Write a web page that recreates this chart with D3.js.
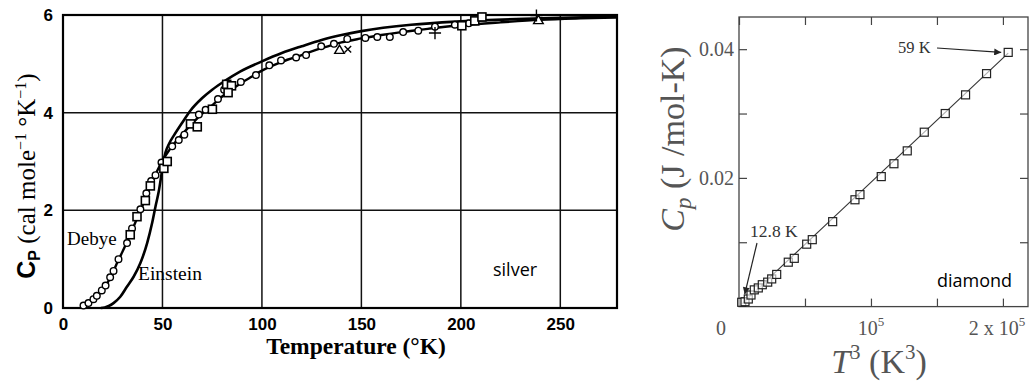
<!DOCTYPE html>
<html>
<head>
<meta charset="utf-8">
<script src="https://cdn.jsdelivr.net/npm/d3@7"></script>
<style>
  body { margin: 0; background: #fff; }
  svg { display: block; }
</style>
</head>
<body>
<svg id="chart" width="1034" height="383"></svg>
<script>
// ---------- Silver: heat capacity vs temperature ----------
const silverXTicks = [0, 50, 100, 150, 200, 250];
const silverYTicks = [0, 2, 4, 6];
const silverXGrid = [50, 100, 150, 200, 250];
const silverYGrid = [2, 4];

// Debye model curve (T in K, Cp in cal/mole/K)
const debyeT  = [9.5, 11, 13, 15, 17, 19, 21, 23, 25, 27.5, 30, 32.5, 35, 37.5, 40, 42.5, 45, 47.5, 50, 52.5, 55, 60, 65, 70, 75, 80, 85, 90, 95, 100, 110, 120, 130, 140, 150, 160, 170, 180, 190, 200, 220, 240, 260, 278];
const debyeCp = [0.0, 0.05, 0.1, 0.16, 0.24, 0.33, 0.43, 0.56, 0.72, 0.95, 1.16, 1.38, 1.62, 1.86, 2.1, 2.35, 2.6, 2.82, 3.02, 3.18, 3.32, 3.56, 3.78, 3.98, 4.15, 4.33, 4.48, 4.62, 4.74, 4.86, 5.04, 5.18, 5.32, 5.44, 5.52, 5.59, 5.65, 5.7, 5.75, 5.79, 5.85, 5.9, 5.93, 5.95];

// Einstein model curve
const einsteinT  = [19, 21, 23, 25.4, 28.8, 32.2, 35.5, 38.9, 42.3, 44.8, 46.5, 48.1, 49.3, 50.3, 51.5, 53.5, 55.7, 60, 64, 70, 75, 81, 89, 100, 110, 120, 130, 140, 150, 175, 200, 240, 278];
const einsteinCp = [0, 0.01, 0.04, 0.1, 0.23, 0.44, 0.64, 0.92, 1.33, 1.74, 2.08, 2.38, 2.68, 2.96, 3.18, 3.38, 3.53, 3.8, 4.04, 4.3, 4.47, 4.64, 4.84, 5.05, 5.22, 5.36, 5.49, 5.59, 5.67, 5.8, 5.87, 5.93, 5.97];

// Measurements, one pair of arrays per marker type
const circleT  = [10.3, 12.8, 15.3, 17, 19.5, 21.4, 23.7, 25.4, 27.9, 32.2, 34.7, 38.9, 41.9, 44.3, 46.5, 49.5, 54.9, 58.2, 61, 68.3, 71.7, 77.9, 81, 89.4, 97, 103.7, 109.6, 117.2, 122.2, 129.8, 136.2, 142.9, 152, 158, 164.3, 171, 178.6, 187, 197, 204];
const circleCp = [0.05, 0.1, 0.18, 0.25, 0.36, 0.46, 0.63, 0.76, 1.0, 1.33, 1.63, 2.02, 2.35, 2.6, 2.72, 2.98, 3.31, 3.44, 3.55, 3.96, 4.06, 4.28, 4.47, 4.63, 4.77, 4.97, 5.07, 5.13, 5.18, 5.36, 5.41, 5.51, 5.53, 5.55, 5.55, 5.65, 5.68, 5.76, 5.8, 5.83];
const squareT  = [33.8, 37.2, 41.4, 43.9, 50.7, 52.4, 64.1, 67.5, 75.1, 82.3, 84.7, 83, 200.5, 207, 210.6];
const squareCp = [1.5, 1.87, 2.2, 2.5, 2.86, 3.0, 3.77, 3.71, 4.07, 4.58, 4.55, 4.41, 5.78, 5.88, 5.96];
const triangleT  = [139, 239];
const triangleCp = [5.27, 5.88];
const crossT  = [143.2];
const crossCp = [5.3];
const plusT  = [187, 238];
const plusCp = [5.63, 5.99];

// ---------- Diamond: heat capacity vs T^3 ----------
const diamondT3 = [2045, 4545, 7045, 9090, 11590, 14620, 17650, 21740, 24770, 28560, 37350, 41890, 51290, 55530, 70980, 87880, 91670, 107800, 117400, 127500, 140400, 156300, 171700, 187600, 204000];
const diamondCp = [0.00067, 0.00076, 0.00118, 0.0018, 0.0026, 0.0029, 0.0034, 0.0038, 0.0043, 0.005, 0.0069, 0.0075, 0.0097, 0.0104, 0.0132, 0.0166, 0.0174, 0.0202, 0.0222, 0.0242, 0.0271, 0.03, 0.0329, 0.0362, 0.0395];
const fitT3 = [2000, 204000];
const fitCp = [0.0004, 0.0394];
const diamondXTicks = [0, 50000, 100000, 150000, 200000];
const diamondYTicks = [0.01, 0.02, 0.03, 0.04];
const diamondXLabelValues = [0, 100000, 200000];
const diamondXLabelBase = ["0", "10", "2 x 10"];
const diamondXLabelExp = ["", "5", "5"];

const svg = d3.select("#chart");

// ================= Left panel: silver =================
const xA = d3.scaleLinear().domain([0, 278.5]).range([63, 617]);
const yA = d3.scaleLinear().domain([0, 6]).range([308, 15]);
const left = svg.append("g");

left.selectAll("line.vgrid").data(silverXGrid).join("line")
  .attr("x1", d => xA(d)).attr("x2", d => xA(d))
  .attr("y1", yA(0)).attr("y2", yA(6))
  .attr("stroke", "#111").attr("stroke-width", 1.5);
left.selectAll("line.hgrid").data(silverYGrid).join("line")
  .attr("x1", xA(0)).attr("x2", xA(278.5))
  .attr("y1", d => yA(d)).attr("y2", d => yA(d))
  .attr("stroke", "#111").attr("stroke-width", 1.5);
left.append("rect")
  .attr("x", xA(0)).attr("y", yA(6))
  .attr("width", xA(278.5) - xA(0)).attr("height", yA(0) - yA(6))
  .attr("fill", "none").attr("stroke", "#000").attr("stroke-width", 2.2);

const tickFont = "'Liberation Sans', Arial, sans-serif";
const axA = left.append("g").attr("transform", `translate(0,${yA(0)})`)
  .call(d3.axisBottom(xA).tickValues(silverXTicks).tickSize(0).tickPadding(10).tickFormat(d3.format("d")));
const ayA = left.append("g").attr("transform", `translate(${xA(0)},0)`)
  .call(d3.axisLeft(yA).tickValues(silverYTicks).tickSize(0).tickPadding(10).tickFormat(d3.format("d")));
[axA, ayA].forEach(g => {
  g.select(".domain").remove();
  g.selectAll("text").attr("font-family", tickFont).attr("font-weight", "bold")
    .attr("font-size", 17).attr("fill", "#000");
});

const lineA = d3.line().x(d => xA(d[0])).y(d => yA(d[1])).curve(d3.curveMonotoneX);
left.append("path").datum(d3.zip(einsteinT, einsteinCp)).attr("d", lineA)
  .attr("fill", "none").attr("stroke", "#000").attr("stroke-width", 2.6);
left.append("path").datum(d3.zip(debyeT, debyeCp)).attr("d", lineA)
  .attr("fill", "none").attr("stroke", "#000").attr("stroke-width", 2.4);

left.selectAll("circle.obs").data(d3.zip(circleT, circleCp)).join("circle")
  .attr("cx", d => xA(d[0])).attr("cy", d => yA(d[1])).attr("r", 3.3)
  .attr("fill", "#fff").attr("stroke", "#000").attr("stroke-width", 1.4);
left.selectAll("rect.obs").data(d3.zip(squareT, squareCp)).join("rect")
  .attr("x", d => xA(d[0]) - 4).attr("y", d => yA(d[1]) - 4)
  .attr("width", 8).attr("height", 8)
  .attr("fill", "#fff").attr("stroke", "#000").attr("stroke-width", 1.6);
const tri = d3.symbol().type(d3.symbolTriangle).size(40);
left.selectAll("path.tri").data(d3.zip(triangleT, triangleCp)).join("path")
  .attr("transform", d => `translate(${xA(d[0])},${yA(d[1])})`).attr("d", tri)
  .attr("fill", "#fff").attr("stroke", "#000").attr("stroke-width", 1.4);
const cross = d3.symbol().type(d3.symbolTimes).size(30);
left.selectAll("path.cross").data(d3.zip(crossT, crossCp)).join("path")
  .attr("transform", d => `translate(${xA(d[0])},${yA(d[1])})`).attr("d", cross)
  .attr("fill", "none").attr("stroke", "#000").attr("stroke-width", 1.4);
left.selectAll("path.plus").data(d3.zip(plusT, plusCp)).join("path")
  .attr("transform", d => `translate(${xA(d[0])},${yA(d[1])})`)
  .attr("d", d3.symbol().type(d3.symbolPlus).size(50))
  .attr("fill", "none").attr("stroke", "#000").attr("stroke-width", 1.4);

const serif = "'Liberation Serif', 'Times New Roman', serif";
left.append("text").attr("x", 67).attr("y", 245)
  .attr("font-family", serif).attr("font-size", 19).text("Debye");
left.append("text").attr("x", 138).attr("y", 280)
  .attr("font-family", serif).attr("font-size", 19.5).text("Einstein");
left.append("text").attr("x", 356).attr("y", 354).attr("text-anchor", "middle")
  .attr("font-family", serif).attr("font-weight", "bold").attr("font-size", 23.5)
  .text("Temperature (°K)");

const yTitleA = left.append("text")
  .attr("transform", "translate(35,176) rotate(-90)")
  .attr("text-anchor", "middle").attr("font-family", serif).attr("font-size", 25);
yTitleA.append("tspan").attr("font-family", tickFont).attr("font-weight", "bold").text("C");
yTitleA.append("tspan").attr("font-family", tickFont).attr("font-weight", "bold")
  .attr("font-size", 16).attr("dy", 5).text("P");
yTitleA.append("tspan").attr("dy", -5).text(" (cal mole");
yTitleA.append("tspan").attr("font-size", 16).attr("dy", -9).text("−1");
yTitleA.append("tspan").attr("dy", 9).text(" °K");
yTitleA.append("tspan").attr("font-size", 16).attr("dy", -9).text("−1");
yTitleA.append("tspan").attr("dy", 9).text(")");

left.append("text").attr("x", 493).attr("y", 276)
  .attr("font-family", "'Open Sans', sans-serif").attr("font-size", 18).text("silver");

// ================= Right panel: diamond =================
const xB = d3.scaleLinear().domain([0, 219000]).range([739, 1028]);
const yB = d3.scaleLinear().domain([0, 0.045]).range([306.6, 17]);
const right = svg.append("g");
const grey = "#555";

const mkAxis = (axisFn, scale, vals, tr) => {
  const g = right.append("g").attr("transform", tr)
    .call(axisFn(scale).tickValues(vals).tickSizeInner(-8).tickSizeOuter(0).tickFormat(""));
  g.select(".domain").remove();
  g.selectAll(".tick line").attr("stroke", "#444").attr("stroke-width", 1.2);
  return g;
};
mkAxis(d3.axisBottom, xB, diamondXTicks, `translate(0,${yB(0)})`);
mkAxis(d3.axisTop, xB, diamondXTicks, `translate(0,${yB(0.045)})`);
mkAxis(d3.axisLeft, yB, diamondYTicks, `translate(${xB(0)},0)`);
mkAxis(d3.axisRight, yB, diamondYTicks, `translate(${xB(219000)},0)`);

right.append("rect")
  .attr("x", xB(0)).attr("y", yB(0.045))
  .attr("width", xB(219000) - xB(0)).attr("height", yB(0) - yB(0.045))
  .attr("fill", "none").attr("stroke", "#444").attr("stroke-width", 1.3);

// y tick labels
right.selectAll("text.ylab").data([0.02, 0.04]).join("text")
  .attr("x", xB(0) - 5).attr("y", d => yB(d) + 7).attr("text-anchor", "end")
  .attr("font-family", serif).attr("font-size", 20).attr("fill", grey)
  .text(d => d3.format(".2f")(d));

// x tick labels with exponents
const xl = right.selectAll("text.xlab").data(d3.range(diamondXLabelValues.length)).join("text")
  .attr("x", i => xB(diamondXLabelValues[i]) + (i === 0 ? -18 : i === 2 ? -6 : 0))
  .attr("y", 335).attr("text-anchor", "middle")
  .attr("font-family", serif).attr("font-size", 20).attr("fill", grey);
xl.append("tspan").text(i => diamondXLabelBase[i]);
xl.append("tspan").attr("font-size", 13).attr("dy", -9).text(i => diamondXLabelExp[i]);

// axis titles
const xTitleB = right.append("text").attr("x", 879).attr("y", 373).attr("text-anchor", "middle")
  .attr("font-family", serif).attr("font-size", 34).attr("fill", grey);
xTitleB.append("tspan").attr("font-style", "italic").text("T");
xTitleB.append("tspan").attr("font-size", 21).attr("dy", -14).text("3");
xTitleB.append("tspan").attr("dy", 14).text(" (K");
xTitleB.append("tspan").attr("font-size", 21).attr("dy", -14).text("3");
xTitleB.append("tspan").attr("dy", 14).text(")");

const yTitleB = right.append("text").attr("transform", "translate(684,139) rotate(-90)")
  .attr("text-anchor", "middle").attr("font-family", serif).attr("font-size", 34).attr("fill", grey);
yTitleB.append("tspan").attr("font-style", "italic").text("C");
yTitleB.append("tspan").attr("font-style", "italic").attr("font-size", 23).attr("dy", 7).text("p");
yTitleB.append("tspan").attr("dy", -7).text("  (J /mol-K)");

// T^3 fit line and measured points
const lineB = d3.line().x(d => xB(d[0])).y(d => yB(d[1]));
right.append("path").datum(d3.zip(fitT3, fitCp)).attr("d", lineB)
  .attr("fill", "none").attr("stroke", "#333").attr("stroke-width", 1.1);
right.selectAll("rect.pt").data(d3.zip(diamondT3, diamondCp)).join("rect")
  .attr("x", d => xB(d[0]) - 4).attr("y", d => yB(d[1]) - 4)
  .attr("width", 8).attr("height", 8)
  .attr("fill", "#fff").attr("fill-opacity", 0.6).attr("stroke", "#222").attr("stroke-width", 1.2);

// annotations
const defs = svg.append("defs");
defs.append("marker").attr("id", "arrowhead").attr("viewBox", "0 0 10 10")
  .attr("refX", 10).attr("refY", 5).attr("markerWidth", 10).attr("markerHeight", 7)
  .attr("markerUnits", "userSpaceOnUse").attr("orient", "auto")
  .append("path").attr("d", "M0,0 L10,5 L0,10 z").attr("fill", "#222");

const lastIdx = diamondT3.length - 1;
right.append("text").attr("x", 898).attr("y", 53)
  .attr("font-family", serif).attr("font-size", 16.5).attr("fill", "#333").text("59 K");
right.append("line")
  .attr("x1", 937).attr("y1", 48)
  .attr("x2", xB(diamondT3[lastIdx]) - 7).attr("y2", yB(diamondCp[lastIdx]))
  .attr("stroke", "#222").attr("stroke-width", 1.2).attr("marker-end", "url(#arrowhead)");

right.append("text").attr("x", 750).attr("y", 237)
  .attr("font-family", serif).attr("font-size", 17.5).attr("fill", "#333").text("12.8 K");
right.append("line")
  .attr("x1", 757).attr("y1", 243)
  .attr("x2", xB(diamondT3[0]) + 3).attr("y2", yB(diamondCp[0]) - 8)
  .attr("stroke", "#222").attr("stroke-width", 1.2).attr("marker-end", "url(#arrowhead)");

right.append("text").attr("x", 937).attr("y", 287)
  .attr("font-family", "'Open Sans', sans-serif").attr("font-size", 18).attr("fill", "#000").text("diamond");
</script>
</body>
</html>
